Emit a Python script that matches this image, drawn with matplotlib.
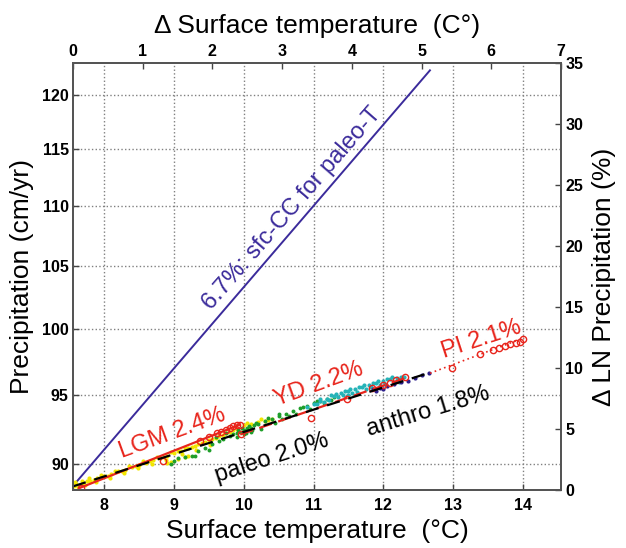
import matplotlib
matplotlib.use("Agg")
import matplotlib.pyplot as plt
from matplotlib.ticker import NullLocator

plt.rcParams['font.family'] = ['Liberation Sans', 'DejaVu Sans']

# axis ticks
x_ticks = [8, 9, 10, 11, 12, 13, 14]
dx_ticks = [0, 1, 2, 3, 4, 5, 6, 7]
y_ticks = [90, 95, 100, 105, 110, 115, 120]
ln_ticks = [0, 5, 10, 15, 20, 25, 30, 35]

# sfc-CC reference line (end points)
cc_t = [7.58, 12.67]
cc_p = [88.65, 122.3]

# fitted lines
lgm_t = [7.65, 9.94]
lgm_p = [88.35, 92.8]
yd_t = [9.95, 12.38]
yd_p = [92.1, 96.35]
pi_t = [12.67, 14.02]
pi_p = [96.6, 99.3]
paleo_t = [7.55, 12.67]
paleo_p = [88.45, 96.65]

# model samples (dots)
yel_t = [7.56, 7.6, 7.65, 7.7, 7.75, 7.8, 7.85, 7.9, 8.0, 8.05, 8.1, 8.2, 8.25, 8.3, 8.4, 8.45,
         8.5, 8.6, 8.65, 8.7, 8.8, 8.85, 8.9, 9.0, 9.05, 9.1, 9.2, 9.25, 9.3, 9.4, 9.45, 9.5,
         9.6, 9.7, 9.75, 9.8, 9.9, 10.0, 10.1, 10.2, 10.3, 10.4, 8.95, 9.05, 9.15, 9.2, 8.9,
         7.58, 7.68, 7.78, 7.95, 8.15, 8.35, 8.55, 8.75, 8.95, 9.15, 9.35, 9.55, 9.65, 9.85,
         7.62, 7.72, 7.88, 8.08, 8.28, 8.48, 8.68, 8.88, 9.12, 9.32, 9.52, 10.05, 10.25, 10.35]
yel_p = [88.5, 88.6, 88.55, 88.7, 88.8, 88.85, 88.9, 89.0, 89.2, 89.15, 89.3, 89.5, 89.5, 89.6, 89.8, 89.85,
         89.95, 90.1, 90.2, 90.3, 90.45, 90.5, 90.6, 90.8, 90.9, 90.95, 91.1, 91.2, 91.3, 91.5, 91.55, 91.7,
         91.85, 92.05, 92.2, 92.25, 92.5, 92.75, 92.85, 93.0, 93.1, 93.25, 90.15, 90.35, 90.5, 90.6, 90.05,
         88.75, 88.85, 89.0, 89.25, 89.55, 89.85, 90.2, 90.5, 90.85, 91.15, 91.45, 91.8, 92.0, 92.4,
         88.4, 88.55, 88.75, 89.05, 89.35, 89.7, 90.0, 90.3, 90.7, 91.0, 91.35, 92.95, 93.2, 93.15]
grn_t = [8.95, 9.0, 9.05, 9.15, 9.25, 9.35, 9.45, 9.55, 9.65, 9.7, 9.8, 9.85, 9.9, 9.95, 10.0,
         10.05, 10.1, 10.15, 10.2, 10.3, 10.4, 10.5, 10.6, 10.7, 10.8, 10.9, 11.0, 11.1, 11.2, 11.3,
         9.9, 10.0, 10.1, 10.25, 10.45, 10.55, 10.75, 10.95, 11.15, 9.3, 9.5,
         9.92, 9.97, 10.03, 10.08, 10.12, 10.18, 10.35, 10.5, 10.65, 10.85, 11.05, 11.25, 9.75, 9.6]
grn_p = [90.0, 90.2, 90.4, 90.5, 90.6, 90.9, 91.1, 91.4, 91.6, 91.8, 92.0, 92.1, 92.2, 92.3, 92.4,
         92.55, 92.6, 92.75, 92.85, 93.05, 93.25, 93.4, 93.6, 93.8, 94.0, 94.2, 94.35, 94.5, 94.7, 94.85,
         91.9, 92.1, 92.3, 92.5, 92.9, 93.2, 93.55, 93.95, 94.4, 90.6, 91.0,
         92.45, 92.6, 92.2, 92.7, 92.4, 92.9, 93.3, 93.6, 93.4, 94.1, 94.5, 94.6, 92.2, 91.9]
cyn_t = [10.9, 11.0, 11.1, 11.2, 11.3, 11.4, 11.5, 11.6, 11.7, 11.8, 11.9, 12.0, 12.1, 12.2, 12.3,
         11.25, 11.45, 11.65, 11.85, 12.05, 12.25, 11.35, 11.55, 11.75, 11.95, 12.15, 11.05, 11.15,
         11.22, 11.42, 11.62, 11.82, 12.02, 12.22, 11.32, 11.52, 11.72, 11.92, 12.12, 11.1, 11.5]
cyn_p = [94.1, 94.3, 94.5, 94.7, 94.9, 95.1, 95.25, 95.4, 95.6, 95.75, 95.9, 96.05, 96.15, 96.25, 96.3,
         94.95, 95.3, 95.6, 95.9, 96.2, 96.35, 94.85, 95.1, 95.45, 95.7, 95.95, 94.3, 94.45,
         94.6, 94.95, 95.2, 95.55, 95.8, 95.95, 95.05, 95.4, 95.75, 96.0, 96.3, 94.65, 95.0]
blu_t = [11.85, 11.95, 12.05, 12.15, 12.25, 12.35, 12.45, 12.55, 12.65, 11.9, 12.0]
blu_p = [95.4, 95.5, 95.65, 95.8, 95.95, 96.05, 96.25, 96.45, 96.6, 95.3, 95.45]

# proxy reconstructions (open circles)
lgm_ct = [7.67, 8.84, 9.37, 9.5, 9.61, 9.68, 9.75, 9.8, 9.85, 9.9, 9.94]
lgm_cp = [88.35, 90.2, 91.6, 91.9, 92.2, 92.3, 92.45, 92.55, 92.7, 92.75, 92.8]
yd_ct = [9.96, 10.97, 11.48, 11.84, 12.0, 12.1, 12.19, 12.31]
yd_cp = [92.1, 93.3, 94.7, 95.5, 95.75, 95.9, 96.1, 96.35]
pi_ct = [12.98, 13.39, 13.58, 13.66, 13.74, 13.82, 13.9, 13.96, 14.01]
pi_cp = [97.0, 98.05, 98.4, 98.55, 98.7, 98.8, 98.9, 99.0, 99.2]

red = '#e8251c'
purple = '#3b2b9b'

fig = plt.figure(figsize=(6.26, 5.48), dpi=100)
ax = fig.add_axes([0.1166, 0.1058, 0.7796, 0.7792])

ax.set_yscale('log')
ax.set_xlim(7.55, 14.55)
ax.set_ylim(88.2, 123.0)

ax.plot(cc_t, cc_p, color=purple, lw=1.4)

ax.scatter(yel_t, yel_p, s=9, color='#f2e600', lw=0, zorder=3)
ax.scatter(grn_t, grn_p, s=8, color='#1e9e2a', lw=0, zorder=3)
ax.scatter(cyn_t, cyn_p, s=9, color='#25b3b8', lw=0, zorder=3)
ax.scatter(blu_t, blu_p, s=9, color='#2d1f8c', lw=0, zorder=3)

ax.plot(lgm_t, lgm_p, color=red, lw=1.6, zorder=4)
ax.plot(yd_t, yd_p, color=red, lw=1.6, ls=(0, (6, 3)), zorder=4)
ax.plot(pi_t, pi_p, color=red, lw=1.2, ls=(0, (1, 2)), zorder=4)
ax.plot(paleo_t, paleo_p, color='black', lw=1.6, ls=(0, (6, 4)), zorder=5)

for ct, cp in [(lgm_ct, lgm_cp), (yd_ct, yd_cp), (pi_ct, pi_cp)]:
    ax.plot(ct, cp, 'o', ls='none', ms=4.5, mfc='none', mec=red, mew=1, zorder=4)

# annotations
ax.text(10.69, 109.8, '6.7%: sfc-CC for paleo-T', color=purple, fontsize=17,
        rotation=49, ha='center', va='center')
ax.text(8.98, 92.16, 'LGM 2.4%', color=red, fontsize=17, rotation=20, ha='center', va='center')
ax.text(11.07, 95.75, 'YD 2.2%', color=red, fontsize=17, rotation=20, ha='center', va='center')
ax.text(13.41, 99.18, 'PI 2.1%', color=red, fontsize=17, rotation=18, ha='center', va='center')
ax.text(10.4, 90.44, 'paleo 2.0%', color='black', fontsize=17, rotation=18, ha='center', va='center')
ax.text(12.64, 93.78, 'anthro 1.8%', color='black', fontsize=17, rotation=17, ha='center', va='center')

ax.set_xticks(x_ticks)
ax.set_yticks(y_ticks)
ax.set_yticklabels([str(v) for v in y_ticks])
ax.yaxis.set_minor_locator(NullLocator())
ax.grid(True, ls=':', color='#808080', lw=1)
ax.set_xlabel('Surface temperature  (°C)', fontsize=19, labelpad=4)
ax.set_ylabel('Precipitation (cm/yr)', fontsize=19, labelpad=6)

ax_top = ax.twiny()
ax_top.set_xlim(0, 7)
ax_top.set_xticks(dx_ticks)
ax_top.set_xlabel('Δ Surface temperature  (C°)', fontsize=19, labelpad=8)

ax_r = ax.twinx()
ax_r.set_ylim(0, 35)
ax_r.set_yticks(ln_ticks)
ax_r.set_ylabel('Δ LN Precipitation (%)', fontsize=19, labelpad=6)

for a in (ax, ax_top, ax_r):
    a.tick_params(direction='in', length=4, width=1, color='#444444',
                  labelsize=11.5, pad=3)
    for lab in a.get_xticklabels() + a.get_yticklabels():
        lab.set_fontweight('bold')
    for sp in a.spines.values():
        sp.set_color('#555555')
        sp.set_linewidth(1.2)
ax.tick_params(axis='x', pad=6)

fig.savefig('out.png', dpi=100)
